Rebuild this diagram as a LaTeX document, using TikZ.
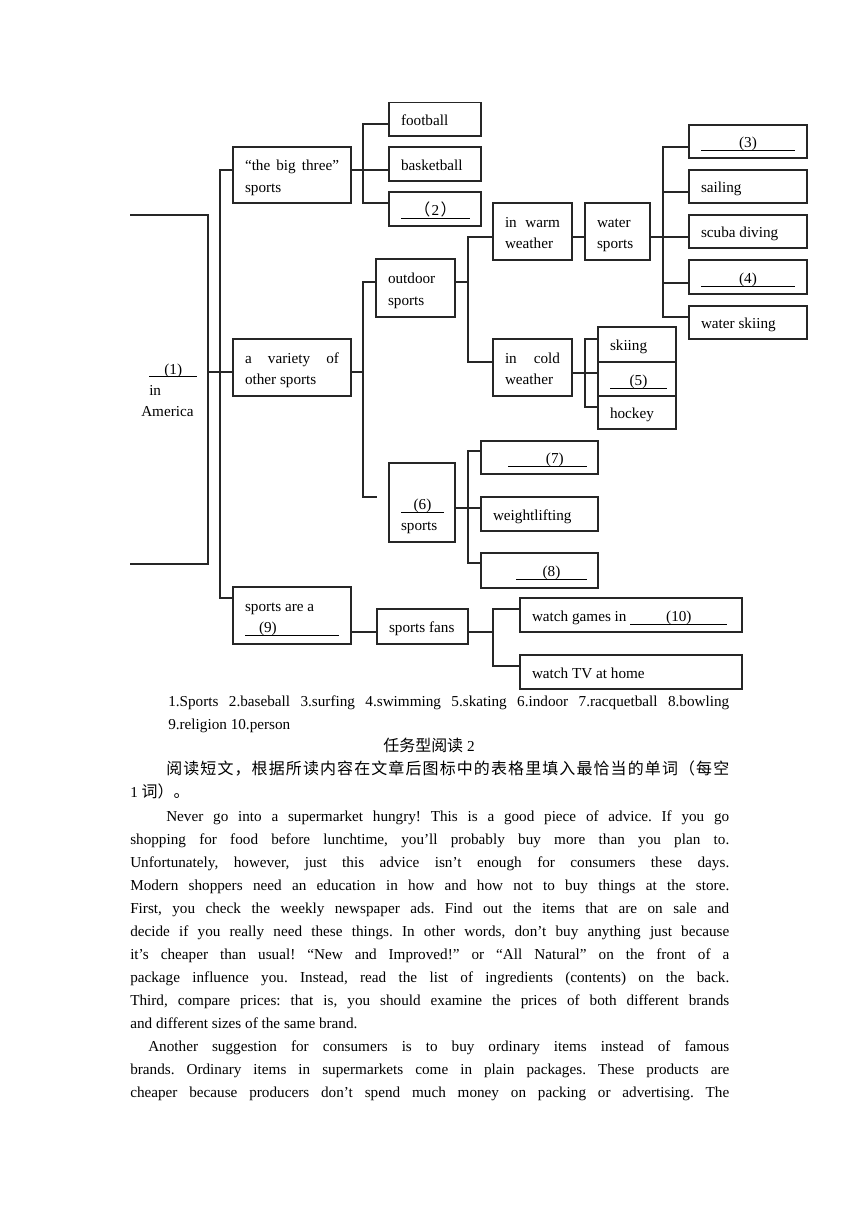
\documentclass[tikz,border=0pt]{standalone}
\usepackage{fontspec}
\setmainfont{Liberation Serif}
\newfontfamily\cjk[Scale=1.05]{Noto Sans CJK SC}
\usetikzlibrary{positioning}
\frenchspacing

\newcommand\jline[1]{\hbox to\linewidth{\spaceskip0pt\xspaceskip0pt\rule[-2pt]{0pt}{14pt}#1}\par}
\newcommand\nline[1]{\hbox{\spaceskip0pt\xspaceskip0pt\rule[-2pt]{0pt}{14pt}#1}\par}
\newcommand\fillgap[3][c]{\makebox[0pt][l]{\rule[-2.4pt]{#2}{0.6pt}}\makebox[#2][#1]{#3}}
\ExplSyntaxOn
\NewDocumentCommand\spreadcjk{m}{\tl_map_inline:nn{#1}{##1\hskip 0pt plus 1fil}\unskip}
\ExplSyntaxOff

\begin{document}
\begin{tikzpicture}[x=0.75pt,y=-0.75pt,font=\fontsize{11.4pt}{16pt}\selectfont,
  link/.style={draw=black!85,line width=0.8pt},
  box/.style={draw=black!85,line width=0.8pt,inner xsep=9pt,inner ysep=0pt,align=left},
  para/.style={anchor=base west,inner sep=0pt,align=left,font=\fontsize{11.4pt}{17.25pt}\selectfont}]
\useasboundingbox (0,0) rectangle (860,1216);
\begin{scope}
\clip (380,103) rectangle (490,140);
\node[box,text width=51pt,minimum height=25.5pt] (football) at (435,119) {\nline{football}};
\end{scope}
\node[box,text width=70.5pt,minimum height=42pt] (bigthree) at (292,175) {\jline{“the big three”}\nline{sports}};
\node[box,text width=51pt,minimum height=25.5pt] (basketball) at (435,164) {\nline{basketball}};
\node[box,text width=51pt,minimum height=25.5pt] (blank2) at (435,209) {\nline{\fillgap{51.75pt}{{\cjk （}\hspace{1pt}2\hspace{1pt}{\cjk ）}}}};
\node[box,text width=70.5pt,minimum height=42.75pt] (variety) at (292,367.5) {\jline{a variety of}\nline{other sports}};
\node[box,text width=41.25pt,minimum height=43.5pt] (outdoor) at (415.5,288) {\nline{outdoor}\nline{sports}};
\node[box,text width=41.25pt,minimum height=42.75pt] (warm) at (532.5,231.5) {\jline{in warm}\nline{weather}};
\node[box,text width=30.75pt,minimum height=42.75pt] (water) at (617.5,231.5) {\nline{water}\nline{sports}};
\node[box,text width=70.5pt,minimum height=24.75pt] (blank3) at (748,141.5) {\nline{\fillgap{70.5pt}{(3)}}};
\node[box,text width=70.5pt,minimum height=24.75pt] (sailing) at (748,186.5) {\nline{sailing}};
\node[box,text width=70.5pt,minimum height=24.75pt] (scuba) at (748,231.5) {\nline{scuba diving}};
\node[box,text width=70.5pt,minimum height=25.5pt] (blank4) at (748,277) {\nline{\fillgap{70.5pt}{(4)}}};
\node[box,text width=70.5pt,minimum height=24.75pt] (waterski) at (748,322.5) {\nline{water skiing}};
\node[box,text width=41.25pt,minimum height=42.75pt] (cold) at (532.5,367.5) {\jline{in cold}\nline{weather}};
\node[box,text width=40.5pt,minimum height=26.25pt] (skiing) at (637,344.5) {\nline{skiing}};
\node[box,text width=40.5pt,minimum height=25.5pt] (blank5) at (637,379) {\nline{\fillgap{42.75pt}{(5)}}};
\node[box,text width=40.5pt,minimum height=24.75pt] (hockey) at (637,412.5) {\nline{hockey}};
\node[box,text width=31.5pt,minimum height=59.25pt] (blank6) at (422,502.5) {\nline{\rule{0pt}{29pt}\fillgap{32.25pt}{(6)}}\nline{sports}};
\node[box,text width=69.75pt,minimum height=24.75pt] (blank7) at (539.5,457.5) {\nline{\hspace*{11.25pt}\fillgap{59.25pt}{\hspace*{11pt}(7)}}};
\node[box,text width=69.75pt,minimum height=25.5pt] (weight) at (539.5,514) {\nline{weightlifting}};
\node[box,text width=69.75pt,minimum height=26.25pt] (blank8) at (539.5,570.5) {\nline{\hspace*{17.25pt}\fillgap{53.25pt}{(8)}}};
\node[box,text width=70.5pt,minimum height=42.75pt] (sportsa) at (292,615.5) {\nline{sports are a}\nline{\fillgap[l]{70.5pt}{\hspace*{10.5pt}(9)}}};
\node[box,text width=50.25pt,minimum height=26.25pt] (fans) at (422.5,626.5) {\nline{sports fans}};
\node[box,text width=148.5pt,minimum height=25.5pt] (games) at (631,615) {\nline{watch games in \fillgap{72.75pt}{(10)}}};
\node[box,text width=148.5pt,minimum height=25.5pt] (tv) at (631,672) {\nline{watch TV at home}};
\node[anchor=base west,inner sep=0pt,text width=40pt,align=left] (america) at (149,374) {\nline{\fillgap{36pt}{(1)}}\nline{in}\nline{\hspace*{-6pt}America}};
\coordinate (lt) at (130,215);
\coordinate (lb) at (130,564);
\coordinate (stub6) at (377,497);
\draw[link] (lt) -- (208,215) -- (208,564) -- (lb);
\draw[link] (208,372) -- (variety.west |- 0,372);
\draw[link] (bigthree.west |- 0,170) -- (220,170) -- (220,598) -- (sportsa.west |- 0,598);
\draw[link] (bigthree.east |- 0,170) -- (basketball.west |- 0,170);
\draw[link] (football.west |- 0,124) -- (363,124) -- (363,203) -- (blank2.west |- 0,203);
\draw[link] (variety.east |- 0,372) -- (363,372);
\draw[link] (outdoor.west |- 0,282) -- (363,282) -- (363,497) -- (stub6);
\draw[link] (outdoor.east |- 0,282) -- (468,282);
\draw[link] (warm.west |- 0,237) -- (468,237) -- (468,362) -- (cold.west |- 0,362);
\draw[link] (warm.east |- 0,237) -- (water.west |- 0,237);
\draw[link] (water.east |- 0,237) -- (scuba.west |- 0,237);
\draw[link] (blank3.west |- 0,147) -- (663,147) -- (663,317) -- (waterski.west |- 0,317);
\draw[link] (663,192) -- (sailing.west |- 0,192);
\draw[link] (663,283) -- (blank4.west |- 0,283);
\draw[link] (cold.east |- 0,373) -- (blank5.west |- 0,373);
\draw[link] (skiing.west |- 0,339) -- (585,339) -- (585,407) -- (hockey.west |- 0,407);
\draw[link] (blank6.east |- 0,508) -- (weight.west |- 0,508);
\draw[link] (blank7.west |- 0,451) -- (468,451) -- (468,563) -- (blank8.west |- 0,563);
\draw[link] (sportsa.east |- 0,632) -- (fans.west |- 0,632);
\draw[link] (fans.east |- 0,632) -- (493,632);
\draw[link] (games.west |- 0,609) -- (493,609) -- (493,666) -- (tv.west |- 0,666);
\node[para,text width=420.75pt] (answers) at (168,706) {\jline{1.Sports 2.baseball 3.surfing 4.swimming 5.skating 6.indoor 7.racquetball 8.bowling}\nline{9.religion 10.person}};
\node[anchor=base,inner sep=0pt] (title) at (429,751) {{\cjk 任务型阅读} 2};
\node[para,text width=449.25pt] (task) at (130,774) {\jline{\hspace*{27pt}\cjk\spreadcjk{阅读短文，根据所读内容在文章后图标中的表格里填入最恰当的单词（每空}}\nline{1 {\cjk 词）。}}};
\node[para,text width=449.25pt] (text1) at (130,821) {\jline{\hspace*{27pt}Never go into a supermarket hungry! This is a good piece of advice. If you go}\jline{shopping for food before lunchtime, you’ll probably buy more than you plan to.}\jline{Unfortunately, however, just this advice isn’t enough for consumers these days.}\jline{Modern shoppers need an education in how and how not to buy things at the store.}\jline{First, you check the weekly newspaper ads. Find out the items that are on sale and}\jline{decide if you really need these things. In other words, don’t buy anything just because}\jline{it’s cheaper than usual! “New and Improved!” or “All Natural” on the front of a}\jline{package influence you. Instead, read the list of ingredients (contents) on the back.}\jline{Third, compare prices: that is, you should examine the prices of both different brands}\nline{and different sizes of the same brand.}};
\node[para,text width=449.25pt] (text2) at (130,1051) {\jline{\hspace*{13.5pt}Another suggestion for consumers is to buy ordinary items instead of famous}\jline{brands. Ordinary items in supermarkets come in plain packages. These products are}\jline{cheaper because producers don’t spend much money on packing or advertising. The}};
\end{tikzpicture}
\end{document}
